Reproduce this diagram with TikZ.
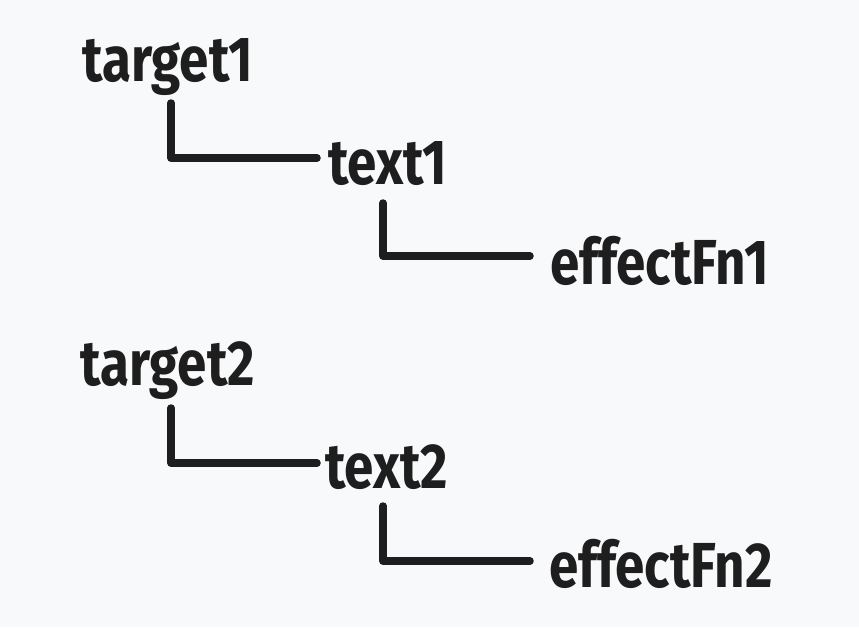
\documentclass[tikz,border=0pt]{standalone}
\usepackage{fontspec}
\setmainfont{Fira Sans}
\definecolor{bg}{HTML}{F8F9FA}
\definecolor{ink}{HTML}{1E1E1E}
\newcommand{\tall}[1]{\scalebox{1}[1.2]{#1}}
\begin{document}
\begin{tikzpicture}[x=1pt,y=-1pt,
  lbl/.style={inner sep=0pt,text=ink,font=\fontsize{53}{53}\selectfont\bfseries},
  conn/.style={draw=ink,line width=7.5pt,line cap=round,line join=round}]
\fill[bg] (0,0) rectangle (859,627);
\useasboundingbox (0,0) rectangle (859,627);
% group 1
\node[lbl,anchor=base west] (t1) at (82,81) {\tall{target1}};
\node[lbl,anchor=base west] (x1) at (328,184) {\tall{text1}};
\node[lbl,anchor=base west] (e1) at (550,284) {\tall{effectFn1}};
\coordinate (c1) at (171,103);
\coordinate (c2) at (383,203);
\draw[conn] (c1) |- (317,158) coordinate (h1);
\draw[conn] (c2) |- (530,256) coordinate (h2);
% group 2
\node[lbl,anchor=base west] (t2) at (80,385) {\tall{target2}};
\node[lbl,anchor=base west] (x2) at (325,488) {\tall{text2}};
\node[lbl,anchor=base west] (e2) at (549,587) {\tall{effectFn2}};
\coordinate (c3) at (171,408);
\coordinate (c4) at (383,506);
\draw[conn] (c3) |- (317,463) coordinate (h3);
\draw[conn] (c4) |- (530,561) coordinate (h4);
\end{tikzpicture}
\end{document}
